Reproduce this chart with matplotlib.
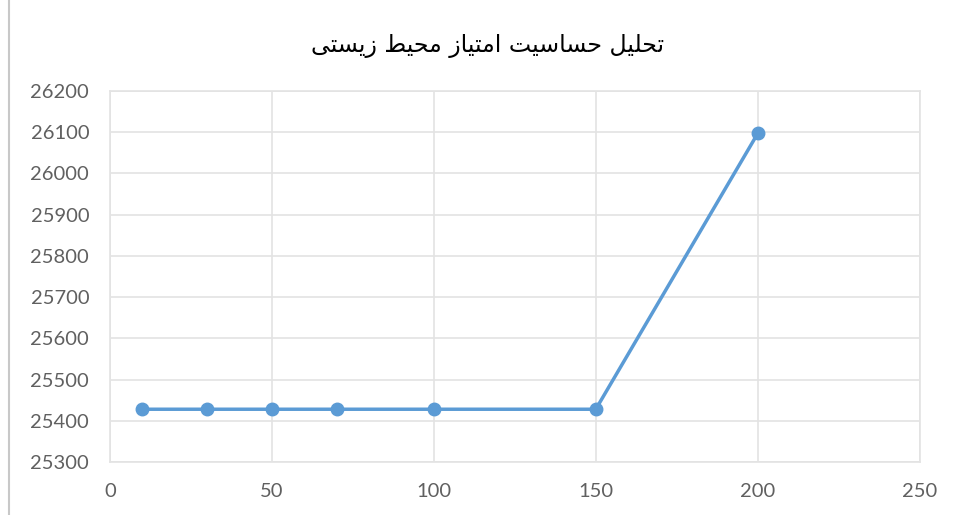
import matplotlib
matplotlib.use("Agg")
import matplotlib.pyplot as plt
from matplotlib.lines import Line2D

# sensitivity data
x_vals = [10, 30, 50, 70, 100, 150, 200]
y_vals = [25428, 25428, 25428, 25428, 25428, 25428, 26097]

x_ticks = [0, 50, 100, 150, 200, 250]
y_ticks = list(range(25300, 26201, 100))

# "تحلیل حساسیت امتیاز محیط زیستی" written in Arabic presentation forms,
# visual (left-to-right) order, since matplotlib does not shape Arabic
words = [
    "\uFE97\uFEA4\uFEE0\uFBFF\uFEDE",          # تحلیل
    "\uFEA3\uFEB4\uFE8E\uFEB3\uFBFF\uFE96",    # حساسیت
    "\uFE8D\uFEE3\uFE98\uFBFF\uFE8E\uFEAF",    # امتیاز
    "\uFEE3\uFEA4\uFBFF\uFEC2",                # محیط
    "\uFEAF\uFBFE\uFEB4\uFE98\uFBFD",          # زیستی
]
title = " ".join(w[::-1] for w in words[::-1])

plt.rcParams["font.family"] = ["Lato", "DejaVu Sans"]

fig = plt.figure(figsize=(9.63, 5.15), dpi=100)
ax = fig.add_axes([0.1142, 0.1029, 0.8408, 0.7204])

ax.plot(x_vals, y_vals, color="#5B9BD5", linewidth=2.5,
        marker="o", markersize=9, zorder=3, clip_on=False)

ax.set_xlim(0, 250)
ax.set_ylim(25300, 26200)
ax.set_xticks(x_ticks)
ax.set_yticks(y_ticks)
ax.grid(True, color="#e3e3e3", linewidth=1.2)
for s in ax.spines.values():
    s.set_color("#e3e3e3")
    s.set_linewidth(1.2)
ax.tick_params(length=0, labelsize=14.5, labelcolor="#606060", pad=15)

fig.text(0.506, 0.91, title, ha="center", va="center", fontsize=17,
         family=["DejaVu Sans"], color="#000000")

# thin border line at the left edge of the screenshot
fig.add_artist(Line2D([0.0095, 0.0095], [0, 1], color="#c8c8c8",
                      linewidth=1.5, transform=fig.transFigure))

fig.savefig("out.png", dpi=100)
